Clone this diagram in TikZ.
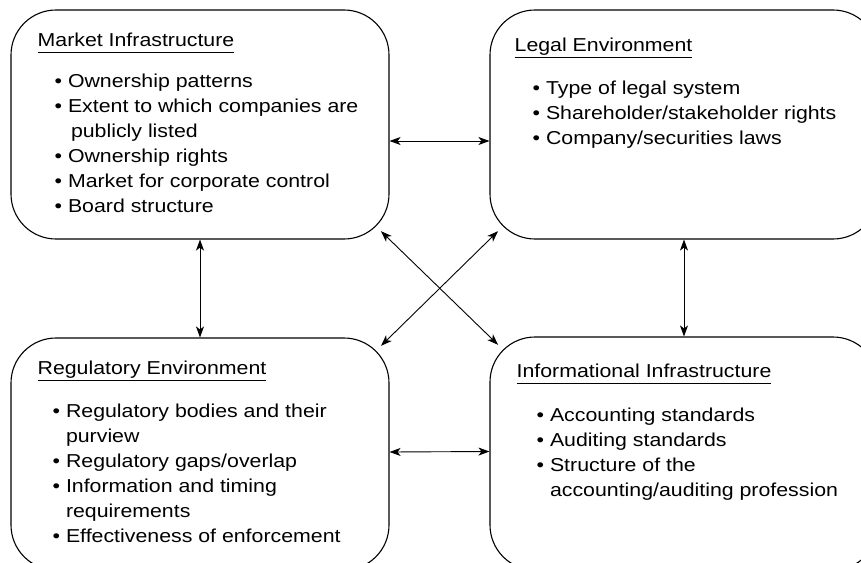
\documentclass[tikz,border=0pt]{standalone}
\usepackage{fontspec}
\setmainfont{Liberation Sans}[FakeStretch=1.14]
\usetikzlibrary{arrows.meta}
\tikzstyle{arrow} = [line width=0.9pt,<->,>={Stealth[length=11pt,width=8pt,inset=3pt]}]
\tikzstyle{panel} = [draw, line width=1.1pt, rounded corners=45pt, inner sep=0pt]
\tikzstyle{heading} = [anchor=base west, inner sep=0pt]
\tikzstyle{items} = [anchor=north west, inner sep=0pt, align=left]
\newcommand{\hd}[1]{\underline{#1\vphantom{g}}}
\newcommand{\cont}{\hphantom{\textbullet\ }}
\newcommand{\first}{\rule{0pt}{15pt}}

\begin{document}
\begin{tikzpicture}[x=1pt, y=-1pt, font=\fontsize{18.7}{25}\selectfont]
        \useasboundingbox (0,0) rectangle (861,562);
        \clip (0,0) rectangle (861,562);
        % the four panels
        \node[panel, minimum width=378pt, minimum height=229pt] (mkt) at (200,124.5) {};
        \node[panel, minimum width=388pt, minimum height=229pt] (leg) at (684,124.5) {};
        \node[panel, minimum width=378pt, minimum height=232pt] (reg) at (200,454) {};
        \node[panel, minimum width=388pt, minimum height=233pt] (inf) at (684,453.5) {};
        % headings
        \node[heading] (mkthead) at ([shift={(27,37)}]mkt.north west) {\hd{Market Infrastructure}};
        \node[heading] (leghead) at ([shift={(25,42)}]leg.north west) {\hd{Legal Environment}};
        \node[heading] (reghead) at ([shift={(27,37)}]reg.north west) {\hd{Regulatory Environment}};
        \node[heading] (infhead) at ([shift={(27,41)}]inf.north west) {\hd{Informational Infrastructure}};
        % bullet lists (first baseline 15pt below the node top)
        \node[items] (mktlist) at ([shift={(44,63)}]mkt.north west) {%
            \first\textbullet\ Ownership patterns\\
            \textbullet\ Extent to which companies are\\
            \cont\hspace{3pt}publicly listed\\
            \textbullet\ Ownership rights\\
            \textbullet\ Market for corporate control\\
            \textbullet\ Board structure};
        \node[items] (leglist) at ([shift={(43,70)}]leg.north west) {%
            \first\textbullet\ Type of legal system\\
            \textbullet\ Shareholder/stakeholder rights\\
            \textbullet\ Company/securities laws};
        \node[items] (reglist) at ([shift={(42,65)}]reg.north west) {%
            \first\textbullet\ Regulatory bodies and their\\
            \cont purview\\
            \textbullet\ Regulatory gaps/overlap\\
            \textbullet\ Information and timing\\
            \cont requirements\\
            \textbullet\ Effectiveness of enforcement};
        \node[items] (inflist) at ([shift={(47,70)}]inf.north west) {%
            \first\textbullet\ Accounting standards\\
            \textbullet\ Auditing standards\\
            \textbullet\ Structure of the\\
            \cont accounting/auditing profession};
        % links between the panels
        \draw[arrow] ([yshift=-16.5pt]mkt.east) -- ([yshift=-16.5pt]leg.west);
        \draw[arrow] ([yshift=2pt]reg.east) -- ([yshift=2pt]inf.west);
        \draw[arrow] (mkt.south) -- (reg.north);
        \draw[arrow] (leg.south) -- (inf.north);
        \draw[arrow, shorten <=-12pt, shorten >=-12pt] (mkt.south east) -- (inf.north west);
        \draw[arrow, shorten <=-12pt, shorten >=-12pt] (leg.south west) -- (reg.north east);
    \end{tikzpicture}
\end{document}
